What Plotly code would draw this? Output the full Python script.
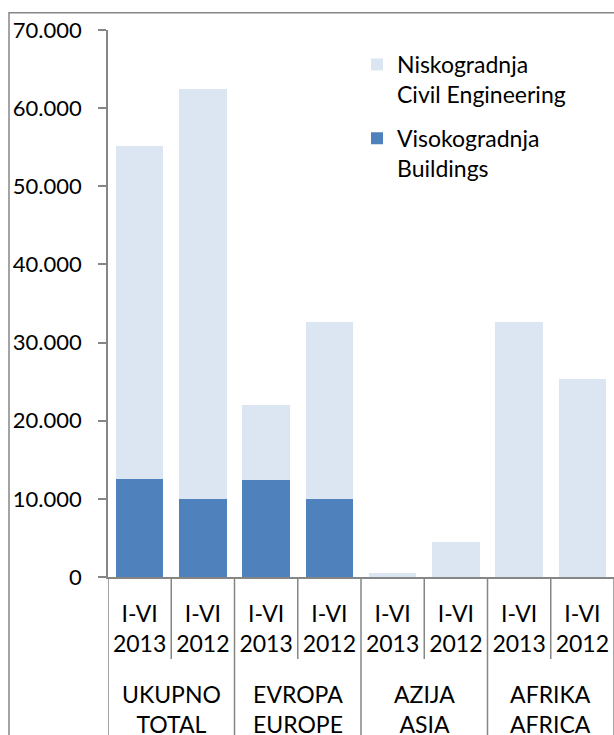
import plotly.graph_objects as go

# ---- data ----
groups = ["UKUPNO<br>TOTAL", "EVROPA<br>EUROPE", "AZIJA<br>ASIA", "AFRIKA<br>AFRICA"]
periods = ["I-VI<br>2013", "I-VI<br>2012"]
buildings = [12480, 9920, 12350, 9920, 0, 0, 0, 0]          # Visokogradnja
civil = [42620, 52580, 9600, 22650, 450, 4450, 32600, 25400]  # Niskogradnja
y_ticks = [0, 10000, 20000, 30000, 40000, 50000, 60000, 70000]

n = len(groups) * len(periods)
xs = list(range(n))
xlabels = [p for g in groups for p in periods]

FONT = "Lato"
FS = 23
GRAY = "#868686"
W, H = 614, 735
ML, MR, MT, MB = 108, 0, 30, 158
PH = H - MT - MB

def py2paper(py):
    return (H - MB - py) / PH

def px2paper(px):
    return (px - ML) / (W - ML - MR)

fig = go.Figure()
fig.add_trace(go.Bar(x=xs, y=buildings, name="Visokogradnja<br>Buildings",
                     legendgroup="b", legendrank=2,
                     marker=dict(color="#4F81BD", line=dict(width=0))))
fig.add_trace(go.Bar(x=xs, y=civil, name="Niskogradnja<br>Civil Engineering",
                     legendgroup="c", legendrank=1,
                     marker=dict(color="#DCE6F2", line=dict(width=0))))

shapes = []
# sub-category boundary ticks
for i in range(len(groups)):
    xb = i * len(periods) + 0.5
    shapes.append(dict(type="line", xref="x", yref="paper", x0=xb, x1=xb,
                       y0=0, y1=py2paper(659), line=dict(color=GRAY, width=1.5)))
# group dividers
for i in range(len(groups) + 1):
    xb = i * len(periods) - 0.5
    shapes.append(dict(type="line", xref="x", yref="paper", x0=xb, x1=xb,
                       y0=0, y1=py2paper(760), line=dict(color=GRAY, width=1.5)))
# chart border
shapes.append(dict(type="rect", xref="paper", yref="paper",
                   x0=px2paper(9), x1=px2paper(640), y0=py2paper(780), y1=py2paper(12.7),
                   line=dict(color=GRAY, width=1.5), fillcolor="rgba(0,0,0,0)"))

annotations = []
for i, g in enumerate(groups):
    annotations.append(dict(x=i * len(periods) + 0.5, y=py2paper(678), xref="x", yref="paper",
                            text=g, showarrow=False, xanchor="center", yanchor="top",
                            font=dict(family=FONT, size=FS, color="black")))

fig.update_layout(
    width=W, height=H, barmode="stack", bargap=0.25,
    margin=dict(l=ML, r=MR, t=MT, b=MB),
    paper_bgcolor="white", plot_bgcolor="white",
    separators=",.",
    font=dict(family=FONT, size=FS, color="black"),
    showlegend=True,
    legend=dict(x=px2paper(357), y=py2paper(43), xanchor="left", yanchor="top",
                valign="top", tracegroupgap=11, traceorder="grouped",
                font=dict(family=FONT, size=FS, color="black"),
                bgcolor="rgba(0,0,0,0)"),
    xaxis=dict(range=[-0.5, n - 0.5], tickmode="array", tickvals=xs, ticktext=xlabels,
               showline=True, linecolor=GRAY, linewidth=1.5, ticks="", showgrid=False,
               zeroline=False, ticklabelstandoff=16,
               tickfont=dict(family=FONT, size=FS, color="black")),
    yaxis=dict(range=[0, 70000], tickmode="array", tickvals=y_ticks, tickformat=",d",
               showline=True, linecolor=GRAY, linewidth=1.5, ticks="outside", ticklen=8,
               tickcolor=GRAY, tickwidth=1.5, showgrid=False, zeroline=False,
               tickfont=dict(family=FONT, size=22, color="black"), ticklabelstandoff=12),
    shapes=shapes, annotations=annotations,
)

fig.write_html("out.html", config={"displayModeBar": False},
               post_script="document.body.style.margin='0';")
